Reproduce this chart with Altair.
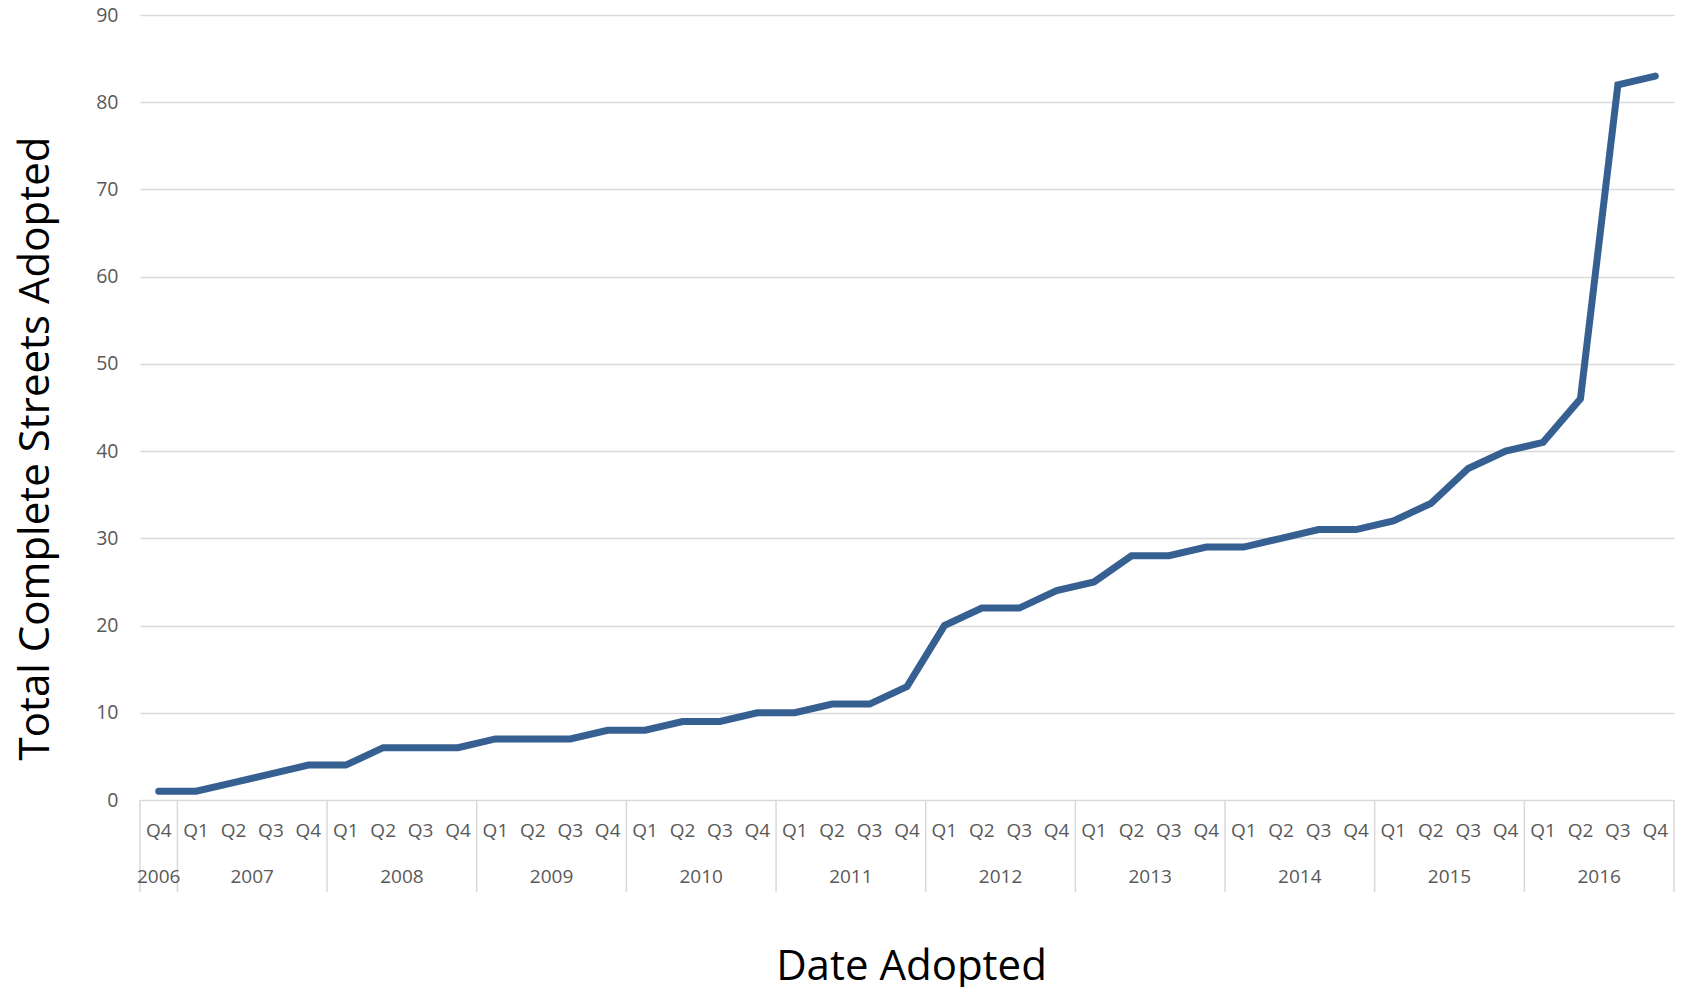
import altair as alt
import pandas as pd

# ---- data ----
quarter_labels = ["Q4",
                  "Q1", "Q2", "Q3", "Q4",
                  "Q1", "Q2", "Q3", "Q4",
                  "Q1", "Q2", "Q3", "Q4",
                  "Q1", "Q2", "Q3", "Q4",
                  "Q1", "Q2", "Q3", "Q4",
                  "Q1", "Q2", "Q3", "Q4",
                  "Q1", "Q2", "Q3", "Q4",
                  "Q1", "Q2", "Q3", "Q4",
                  "Q1", "Q2", "Q3", "Q4",
                  "Q1", "Q2", "Q3", "Q4"]
year_labels = ["2006",
               "2007", "2007", "2007", "2007",
               "2008", "2008", "2008", "2008",
               "2009", "2009", "2009", "2009",
               "2010", "2010", "2010", "2010",
               "2011", "2011", "2011", "2011",
               "2012", "2012", "2012", "2012",
               "2013", "2013", "2013", "2013",
               "2014", "2014", "2014", "2014",
               "2015", "2015", "2015", "2015",
               "2016", "2016", "2016", "2016"]
totals = [1,
          1, 2, 3, 4,
          4, 6, 6, 6,
          7, 7, 7, 8,
          8, 9, 9, 10,
          10, 11, 11, 13,
          20, 22, 22, 24,
          25, 28, 28, 29,
          29, 30, 31, 31,
          32, 34, 38, 40,
          41, 46, 82, 83]
y_ticks = [0, 10, 20, 30, 40, 50, 60, 70, 80, 90]

df = pd.DataFrame({
    "idx": list(range(len(totals))),
    "quarter": quarter_labels,
    "year": year_labels,
    "total": totals,
})

# year boundaries (separators between year groups)
starts = df.groupby("year")["idx"].min() - 0.5
bounds = pd.DataFrame({"pos": list(starts.values) + [df["idx"].max() + 0.5]})

W, H = 1534, 785
FONT = "Open Sans"
TFONT = "Open Sans"

xscale = alt.Scale(domain=[-0.5, len(totals) - 0.5], nice=False, zero=False)
xaxis = alt.Axis(labels=False, ticks=False, domain=False, grid=False,
                 title="Date Adopted", titleFontSize=42, titleFont=TFONT,
                 titleFontWeight="normal", titleColor="#000000",
                 titleX=771, titleY=179, titleBaseline="alphabetic",
                 titleAlign="center")

line = alt.Chart(df).mark_line(
    color="#366092", strokeWidth=7, strokeCap="round", strokeJoin="miter"
).encode(
    x=alt.X("idx:Q", scale=xscale, axis=xaxis),
    y=alt.Y("total:Q", scale=alt.Scale(domain=[0, 90], nice=False),
            axis=alt.Axis(values=y_ticks, grid=True, gridColor="#d9d9d9", gridWidth=1.5,
                          domain=False, ticks=False, labelColor="#595959",
                          labelFontSize=19.5, labelFont=FONT, labelPadding=22,
                          title="Total Complete Streets Adopted", titleFontSize=42,
                          titleFont=TFONT, titleFontWeight="normal", titleColor="#000000",
                          titleX=-105, titleY=433, titleAngle=270,
                          titleAlign="center", titleBaseline="middle")),
)

qtext = alt.Chart(df).mark_text(
    fontSize=19, font=FONT, color="#595959", baseline="middle", align="center"
).encode(
    x=alt.X("idx:Q", scale=xscale, axis=xaxis),
    y=alt.value(H + 31),
    text="quarter:N",
)

ytext = alt.Chart(df).transform_aggregate(
    center="mean(idx)", groupby=["year"]
).mark_text(
    fontSize=19, font=FONT, color="#595959", baseline="middle", align="center"
).encode(
    x=alt.X("center:Q", scale=xscale, axis=xaxis),
    y=alt.value(H + 77),
    text="year:N",
)

seps = alt.Chart(bounds).mark_rule(color="#d9d9d9", strokeWidth=1.5).encode(
    x=alt.X("pos:Q", scale=xscale, axis=xaxis),
    y=alt.value(H),
    y2=alt.value(H + 92),
)

chart = alt.layer(seps, line, qtext, ytext).properties(
    width=W, height=H,
    background="white",
    autosize=alt.AutoSizeParams(type="none"),
    padding={"left": 132, "top": 7, "right": 2, "bottom": 187},
).configure_view(stroke=None)

chart.save("out.html", embed_options={"renderer": "svg", "actions": False})
